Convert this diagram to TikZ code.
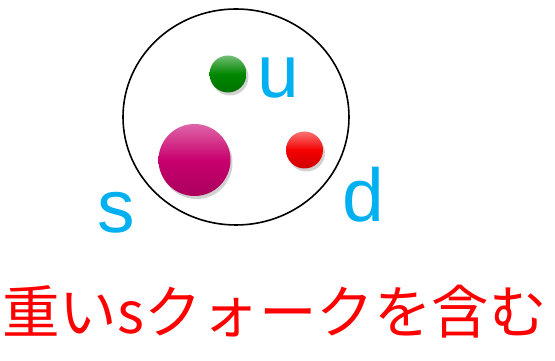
\documentclass[tikz,border=0pt]{standalone}
\usepackage{fontspec}
\usetikzlibrary{shapes.geometric}
\setmainfont{Liberation Sans}
\newfontfamily\cjk{Noto Sans CJK JP}
\definecolor{qcyan}{RGB}{0,176,240}
\definecolor{qgreen}{RGB}{0,135,0}
\definecolor{qmag}{RGB}{200,0,110}
\definecolor{qred}{RGB}{245,0,0}
\definecolor{txtred}{RGB}{255,0,0}
\begin{document}
\begin{tikzpicture}[x=1pt,y=1pt,
  lbl/.style={text=qcyan,font=\fontsize{75}{75}\selectfont,inner sep=0pt,anchor=base},
  shadowball/.style={fill=black,opacity=0.18}]
\useasboundingbox (0,0) rectangle (555,361);
\node[draw=black,line width=1.6pt,ellipse,minimum width=226pt,minimum height=216pt,inner sep=0pt] (had) at (236,244) {};
% shadows
\fill[shadowball] (230,284) circle (18.5);
\fill[shadowball] (196.5,198) circle (36);
\fill[shadowball] (306.5,208) circle (18.5);
% balls
\shade[top color=qgreen!55!white, bottom color=qgreen!85!black, middle color=qgreen] (228,287) circle (18.5) coordinate (gb);
\shade[top color=qmag!60!white, bottom color=qmag!85!black, middle color=qmag] (194.5,201) circle (36) coordinate (mb);
\shade[top color=qred!55!white, bottom color=qred!85!black, middle color=qred] (304.5,211) circle (18.5) coordinate (rb);
\node[lbl] (u) at (278.5,263) {u};
\node[lbl] (s) at (116,128) {s};
\node[lbl] (d) at (363,139) {d};
\node[text=txtred,font=\cjk\fontsize{57.5}{57.5}\selectfont,inner sep=0pt,anchor=west] (t) at (2,49) {重いsクォークを含む};
\end{tikzpicture}
\end{document}
